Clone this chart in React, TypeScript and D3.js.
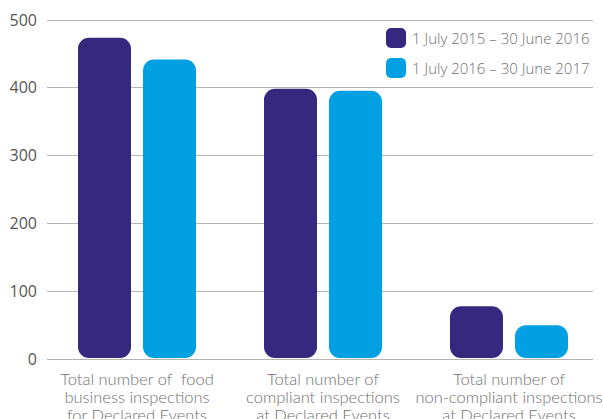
import React from "react";
import * as d3 from "d3";

const categories = [
  ["Total number of  food", "business inspections", "for Declared Events"],
  ["Total number of", "compliant inspections", "at Declared Events"],
  ["Total number of", "non-compliant inspections", "at Declared Events"],
];
const seriesNames = ["1 July 2015 – 30 June 2016", "1 July 2016 – 30 June 2017"];
const series2016 = [473, 398, 77];
const series2017 = [441, 395, 49];
const yTicks = [0, 100, 200, 300, 400, 500];
const colors = ["#37287f", "#00a0e2"];

const W = 603;
const H = 419;

export default function App() {
  const y = d3.scaleLinear().domain([0, 500]).range([358.5, 19.5]);
  const x0 = d3.scaleBand<number>().domain([0, 1, 2]).range([44, 602]).padding(0);
  const x1 = d3
    .scaleBand<number>()
    .domain([0, 1])
    .range([34, 152])
    .paddingInner(2 - 118 / 65)
    .paddingOuter(0);
  const values = [series2016, series2017];
  const font = "'Open Sans', sans-serif";
  const lightFont = "Lato, sans-serif";
  return (
    <svg
      width={W}
      height={H}
      style={{ position: "absolute", left: 0, top: 0, background: "#fff" }}
    >
      {yTicks.map((t) => (
        <g key={t}>
          <line x1={47} x2={593} y1={Math.round(y(t)) + 0.5} y2={Math.round(y(t)) + 0.5} stroke="#b4b4b4" strokeWidth={1} />
          <text x={37} y={y(t) + 6} textAnchor="end" fontFamily={font} fontSize={16} fill="#555">
            {t}
          </text>
        </g>
      ))}
      {categories.map((_, ci) =>
        values.map((vals, si) => {
          const bx = (x0(ci) ?? 0) + (x1(si) ?? 0);
          const bw = x1.bandwidth();
          const top = y(vals[ci]);
          return (
            <rect
              key={`${ci}-${si}`}
              x={bx}
              y={top}
              width={bw}
              height={y(0) - top - 0.5}
              rx={11}
              ry={11}
              fill={colors[si]}
            />
          );
        })
      )}
      {categories.map((lines, ci) => (
        <text
          key={ci}
          x={(x0(ci) ?? 0) + x0.bandwidth() / 2}
          textAnchor="middle"
          fontFamily={lightFont}
          fontWeight={300}
          fontSize={16.5}
          fill="#707070"
        >
          {lines.map((l, li) => (
            <tspan key={li} x={(x0(ci) ?? 0) + x0.bandwidth() / 2} y={385 + li * 18} style={{ whiteSpace: "pre" }}>
              {l}
            </tspan>
          ))}
        </text>
      ))}
      {seriesNames.map((s, i) => (
        <g key={s}>
          <rect x={386} y={28 + i * 30} width={20} height={20} rx={5} fill={colors[i]} />
          <text x={412} y={44 + i * 30} fontFamily={font} fontWeight={300} fontSize={15} fill="#707070">
            {s}
          </text>
        </g>
      ))}
    </svg>
  );
}
